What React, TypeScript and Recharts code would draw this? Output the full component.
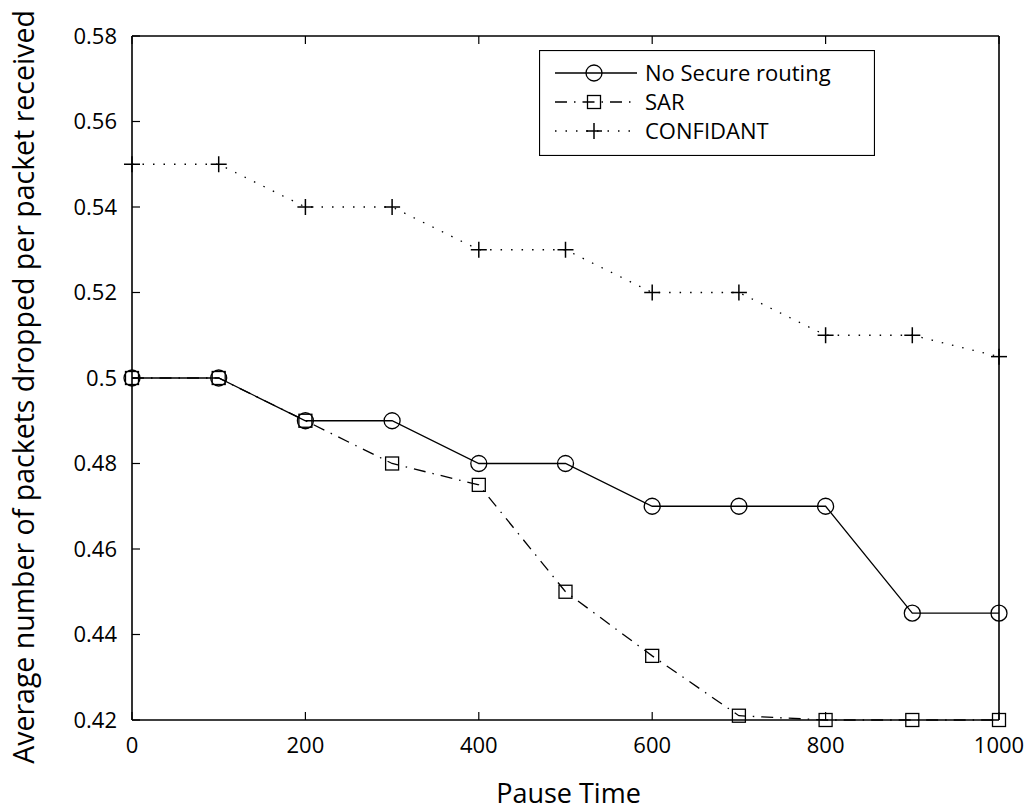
import { LineChart, Line, XAxis, YAxis } from 'recharts';

const pauseTimes = [0, 100, 200, 300, 400, 500, 600, 700, 800, 900, 1000];
const noSecureRouting = [0.5, 0.5, 0.49, 0.49, 0.48, 0.48, 0.47, 0.47, 0.47, 0.445, 0.445];
const sarValues = [0.5, 0.5, 0.49, 0.48, 0.475, 0.45, 0.435, 0.421, 0.42, 0.42, 0.42];
const confidantValues = [0.55, 0.55, 0.54, 0.54, 0.53, 0.53, 0.52, 0.52, 0.51, 0.51, 0.505];

const xTicks = [0, 200, 400, 600, 800, 1000];
const yTicks = [0.42, 0.44, 0.46, 0.48, 0.5, 0.52, 0.54, 0.56, 0.58];

const data = pauseTimes.map((t, i) => ({
  t,
  none: noSecureRouting[i],
  sar: sarValues[i],
  conf: confidantValues[i],
}));

const FONT = '"Open Sans", sans-serif';
const TICK_LEN = 8;

type Kind = 'circle' | 'square' | 'plus';

function Marker({ kind, cx, cy }: { kind: Kind; cx: number; cy: number }) {
  if (kind === 'circle') {
    return <circle cx={cx} cy={cy} r={8} fill="none" stroke="#000" strokeWidth={1.3} />;
  }
  if (kind === 'square') {
    return <rect x={cx - 6.5} y={cy - 6.5} width={13} height={13} fill="none" stroke="#000" strokeWidth={1.3} />;
  }
  return (
    <g stroke="#000" strokeWidth={1.5}>
      <line x1={cx - 8} y1={cy} x2={cx + 8} y2={cy} />
      <line x1={cx} y1={cy - 8} x2={cx} y2={cy + 8} />
    </g>
  );
}

const dotFor = (kind: Kind) => (props: any) => {
  const { cx, cy, index } = props;
  if (cx == null || cy == null) return <g key={`${kind}-${index}`} />;
  return <Marker key={`${kind}-${index}`} kind={kind} cx={cx} cy={cy} />;
};

const fmtY = (v: number) => String(Number(v.toFixed(2)));

function BottomTick({ x, y, payload }: any) {
  return (
    <g>
      <line x1={x} y1={y} x2={x} y2={y - TICK_LEN} stroke="#000" strokeWidth={1.2} />
      <text x={x} y={y + 33} textAnchor="middle" fontSize={22} fontFamily={FONT} fill="#000">
        {payload.value}
      </text>
    </g>
  );
}

function TopTick({ x, y }: any) {
  return <line x1={x} y1={y} x2={x} y2={y + TICK_LEN} stroke="#000" strokeWidth={1.2} />;
}

function LeftTick({ x, y, payload }: any) {
  return (
    <g>
      <line x1={x} y1={y} x2={x + TICK_LEN} y2={y} stroke="#000" strokeWidth={1.2} />
      <text x={x - 15} y={y} dy="0.36em" textAnchor="end" fontSize={22} fontFamily={FONT} fill="#000">
        {fmtY(payload.value)}
      </text>
    </g>
  );
}

function RightTick({ x, y }: any) {
  return <line x1={x} y1={y} x2={x - TICK_LEN} y2={y} stroke="#000" strokeWidth={1.2} />;
}

const legendRows: { name: string; kind: Kind; dash?: string }[] = [
  { name: 'No Secure routing', kind: 'circle' },
  { name: 'SAR', kind: 'square', dash: '12 7 1.5 7' },
  { name: 'CONFIDANT', kind: 'plus', dash: '1.5 9' },
];

function LegendBox() {
  return (
    <svg width={336} height={106} style={{ display: 'block' }}>
      <rect x={0.5} y={0.5} width={335} height={105} fill="#fff" stroke="#000" strokeWidth={1.2} />
      {legendRows.map((r, i) => {
        const cy = 23 + i * 29;
        return (
          <g key={r.name}>
            <line x1={16} y1={cy} x2={98} y2={cy} stroke="#000" strokeWidth={1.3} strokeDasharray={r.dash} />
            <Marker kind={r.kind} cx={55} cy={cy} />
            <text x={106} y={cy} dy="0.36em" fontSize={22} fontFamily={FONT} fill="#000">
              {r.name}
            </text>
          </g>
        );
      })}
    </svg>
  );
}

const axisLine = { stroke: '#000', strokeWidth: 1.6 };

export default function App() {
  return (
    <div style={{ position: 'absolute', left: 0, top: 0, width: 1026, height: 812, background: '#fff' }}>
      <LineChart width={1026} height={812} data={data} margin={{ top: 35, right: 26, bottom: 91, left: 131 }}>
        <XAxis
          xAxisId="b"
          dataKey="t"
          type="number"
          domain={[0, 1000]}
          ticks={xTicks}
          height={1}
          tickSize={0}
          tickMargin={0}
          tickLine={false}
          axisLine={axisLine}
          tick={<BottomTick />}
          label={{
            content: ({ viewBox }: any) => (
              <text
                x={viewBox.x + viewBox.width / 2 + 3}
                y={viewBox.y + 83}
                textAnchor="middle"
                fontSize={27}
                fontFamily={FONT}
                fill="#000"
              >
                Pause Time
              </text>
            ),
          }}
        />
        <XAxis
          xAxisId="top"
          orientation="top"
          dataKey="t"
          type="number"
          domain={[0, 1000]}
          ticks={xTicks}
          height={1}
          tickSize={0}
          tickMargin={0}
          tickLine={false}
          axisLine={axisLine}
          tick={<TopTick />}
        />
        <YAxis
          yAxisId="l"
          type="number"
          domain={[0.42, 0.58]}
          ticks={yTicks}
          width={1}
          tickSize={0}
          tickMargin={0}
          tickLine={false}
          axisLine={axisLine}
          tick={<LeftTick />}
          label={{
            content: ({ viewBox }: any) => {
              const lx = viewBox.x + viewBox.width - 98;
              const ly = 387;
              return (
                <text
                  x={lx}
                  y={ly}
                  transform={`rotate(-90 ${lx} ${ly})`}
                  textAnchor="middle"
                  fontSize={28.5}
                  fontFamily={FONT}
                  fill="#000"
                >
                  Average number of packets dropped per packet received
                </text>
              );
            },
          }}
        />
        <YAxis
          yAxisId="r"
          orientation="right"
          type="number"
          domain={[0.42, 0.58]}
          ticks={yTicks}
          width={1}
          tickSize={0}
          tickMargin={0}
          tickLine={false}
          axisLine={axisLine}
          tick={<RightTick />}
        />
        <Line
          xAxisId="b"
          yAxisId="l"
          dataKey="none"
          name="No Secure routing"
          stroke="#000"
          strokeWidth={1.3}
          dot={dotFor('circle')}
          isAnimationActive={false}
        />
        <Line
          xAxisId="b"
          yAxisId="l"
          dataKey="sar"
          name="SAR"
          stroke="#000"
          strokeWidth={1.3}
          strokeDasharray="12 7 1.5 7"
          dot={dotFor('square')}
          isAnimationActive={false}
        />
        <Line
          xAxisId="b"
          yAxisId="l"
          dataKey="conf"
          name="CONFIDANT"
          stroke="#000"
          strokeWidth={1.3}
          strokeDasharray="1.5 9"
          dot={dotFor('plus')}
          isAnimationActive={false}
        />
      </LineChart>
      <div style={{ position: 'absolute', left: 539, top: 50 }}>
        <LegendBox />
      </div>
    </div>
  );
}
